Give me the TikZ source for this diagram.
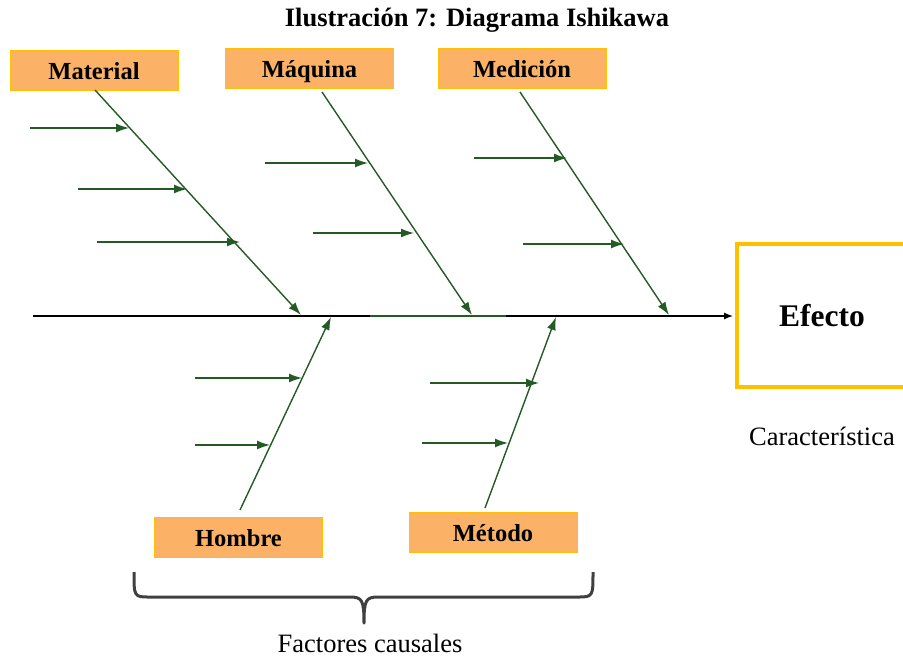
\documentclass[tikz,border=0pt]{standalone}
\usepackage{fontspec}
\setmainfont{Liberation Serif}
\usetikzlibrary{arrows.meta}
\definecolor{boxfill}{HTML}{FBB166}
\definecolor{boxline}{HTML}{FFC000}
\definecolor{bone}{HTML}{245A24}
\definecolor{bracecol}{HTML}{404040}
\begin{document}
\begin{tikzpicture}[x=1pt,y=-1pt,
  cause/.style={draw=boxline, line width=0.8pt, fill=boxfill, minimum width=168pt, minimum height=40pt, inner sep=0pt,
    text height=22pt, text depth=4pt, font=\fontsize{24.5}{27}\selectfont\bfseries},
  bonearrow/.style={draw=bone, line width=1.4pt, -{Latex[length=13pt,width=9pt]}},
  twig/.style={draw=bone, line width=1.4pt, -{Latex[length=13pt,width=9pt]}}
]
\useasboundingbox (0,0) rectangle (903,657);

% title
\node (title) at (477,20) {\fontsize{26.5}{29}\selectfont\bfseries Ilustración 7: Diagrama Ishikawa};

% cause boxes
\node[cause] (material) at (94,70) {Material};
\node[cause] (maquina)  at (309.5,68) {Máquina};
\node[cause] (medicion) at (522,68) {Medición};
\node[cause] (hombre)   at (238.5,537) {Hombre};
\node[cause] (metodo)   at (493,532) {Método};

% effect box (runs past the right edge)
\begin{scope}
  \clip (0,0) rectangle (903,657);
  \draw[boxline, line width=3.5pt] (737,244) rectangle (915,387);
\end{scope}
\node (efecto) at (822,316) {\fontsize{31.5}{34}\selectfont\bfseries Efecto};
\node (caract) at (822,436) {\fontsize{26.5}{30}\selectfont Característica};

% spine
\coordinate (tail) at (33,316);
\coordinate (head) at (733,316);
\coordinate (g1) at (370,316);
\coordinate (g2) at (506,316);
\draw[line width=1.2pt] (tail) -- (g1);
\draw[bone, line width=1.2pt] (g1) -- (g2);
\draw[line width=1.2pt, -{Latex[length=9pt,width=7pt]}] (g2) -- (head);

% bone end points on the spine
\coordinate (matEnd) at (301,315);
\coordinate (maqEnd) at (472,315);
\coordinate (medEnd) at (669,315);
\coordinate (homEnd) at (331,317);
\coordinate (metEnd) at (556,317);

% main bones
\coordinate (matTop) at (95,90);
\coordinate (maqTop) at (322,92);
\coordinate (medTop) at (520,92);
\coordinate (homBot) at (240,510);
\coordinate (metBot) at (485,508);
\draw[bonearrow] (matTop) -- (matEnd);
\draw[bonearrow] (maqTop) -- (maqEnd);
\draw[bonearrow] (medTop) -- (medEnd);
\draw[bonearrow] (homBot) -- (homEnd);
\draw[bonearrow] (metBot) -- (metEnd);

% sub-causes
\coordinate (a1) at (30,128);  \coordinate (b1) at (129,128);
\coordinate (a2) at (78,189);  \coordinate (b2) at (187,189);
\coordinate (a3) at (97,242);  \coordinate (b3) at (240,242);
\coordinate (a4) at (265,163); \coordinate (b4) at (368,163);
\coordinate (a5) at (313,233); \coordinate (b5) at (414,233);
\coordinate (a6) at (474,158); \coordinate (b6) at (567,158);
\coordinate (a7) at (523,244); \coordinate (b7) at (624,244);
\coordinate (a8) at (195,378); \coordinate (b8) at (302,378);
\coordinate (a9) at (195,445); \coordinate (b9) at (270,445);
\coordinate (a10) at (430,383); \coordinate (b10) at (539,383);
\coordinate (a11) at (422,443); \coordinate (b11) at (508,443);
\foreach \i in {1,...,11} {\draw[twig] (a\i) -- (b\i);}

% brace under the causes
\coordinate (brL) at (134,572);
\coordinate (brR) at (593,572);
\coordinate (brTip) at (364,623);
\draw[bracecol, line width=3pt, line join=round]
  (brL) .. controls (134,597) and (134,597) .. (150,597) -- (350,597)
  .. controls (362,597) and (364,600) .. (brTip)
  .. controls (364,600) and (366,597) .. (378,597) -- (577,597)
  .. controls (593,597) and (593,597) .. (brR);
\node (factores) at (370,643) {\fontsize{26.5}{30}\selectfont Factores causales};
\end{tikzpicture}
\end{document}
